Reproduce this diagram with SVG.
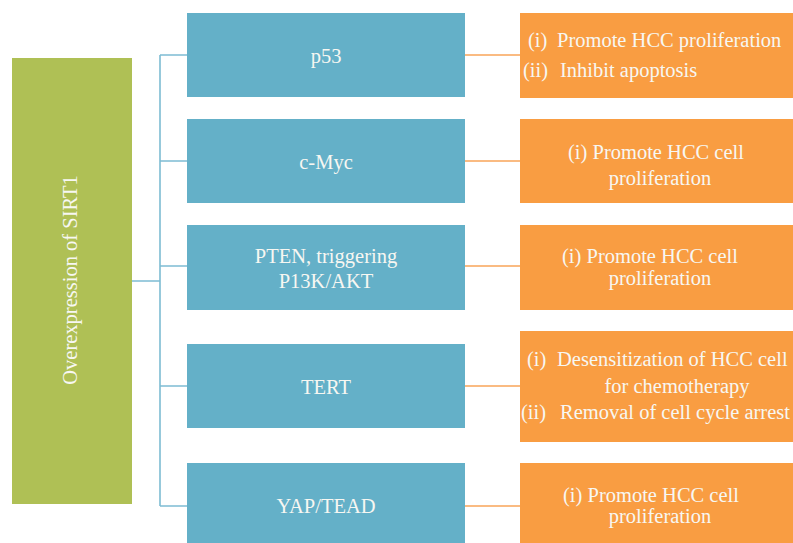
<svg xmlns="http://www.w3.org/2000/svg" width="793" height="543" viewBox="0 0 793 543">
<style>
.green{fill:#AFC055}
.blue{fill:#64B0C8}
.orange{fill:#F99D42}
text{font-family:"Liberation Serif","Times New Roman",serif;font-size:20.5px;fill:#F7F7F2}
.c{text-anchor:middle}
.bl{fill:none;stroke:#7DBCD3;stroke-width:1.6}
.ol{fill:none;stroke:#F9A55A;stroke-width:1.6}
</style>
<rect width="793" height="543" fill="#FFFFFF"/>
<g id="connectors">
<path class="bl" d="M132,281 H160 M160,55 V506 M160,55 H187 M160,161 H187 M160,266 H187 M160,386 H187 M160,506 H187"/>
<path class="ol" d="M465,55 H520 M465,161 H520 M465,266 H520 M465,386 H520 M465,506 H520"/>
</g>
<g id="sirt1">
<rect class="green" x="12" y="58" width="120" height="446"/>
<text class="c" transform="translate(77,280) rotate(-90)">Overexpression of SIRT1</text>
</g>
<g id="p53">
<rect class="blue" x="187" y="13" width="278" height="84"/>
<text class="c" x="326" y="63">p53</text>
</g>
<g id="cmyc">
<rect class="blue" x="187" y="119" width="278" height="84"/>
<text class="c" x="326" y="169">c-Myc</text>
</g>
<g id="pten">
<rect class="blue" x="187" y="225" width="278" height="85"/>
<text class="c" x="326" y="263">PTEN, triggering</text>
<text class="c" x="326" y="288">P13K/AKT</text>
</g>
<g id="tert">
<rect class="blue" x="187" y="344" width="278" height="84"/>
<text class="c" x="326" y="394">TERT</text>
</g>
<g id="yap">
<rect class="blue" x="187" y="463" width="278" height="80"/>
<text class="c" x="326" y="513">YAP/TEAD</text>
</g>
<g id="p53-effect">
<rect class="orange" x="520" y="13" width="273" height="85"/>
<text x="528" y="47">(i)</text>
<text x="557" y="47">Promote HCC proliferation</text>
<text x="523" y="77">(ii)</text>
<text x="560" y="77">Inhibit apoptosis</text>
</g>
<g id="cmyc-effect">
<rect class="orange" x="520" y="119" width="273" height="84"/>
<text class="c" x="656" y="159">(i) Promote HCC cell</text>
<text class="c" x="660" y="185">proliferation</text>
</g>
<g id="pten-effect">
<rect class="orange" x="520" y="225" width="273" height="85"/>
<text class="c" x="650" y="263">(i) Promote HCC cell</text>
<text class="c" x="660" y="285">proliferation</text>
</g>
<g id="tert-effect">
<rect class="orange" x="520" y="331" width="273" height="111"/>
<text x="527" y="366">(i)</text>
<text x="557" y="366">Desensitization of HCC cell</text>
<text class="c" x="677" y="393">for chemotherapy</text>
<text x="521" y="419">(ii)</text>
<text x="560" y="419">Removal of cell cycle arrest</text>
</g>
<g id="yap-effect">
<rect class="orange" x="520" y="463" width="273" height="80"/>
<text class="c" x="651" y="502">(i) Promote HCC cell</text>
<text class="c" x="660" y="523">proliferation</text>
</g>
</svg>
